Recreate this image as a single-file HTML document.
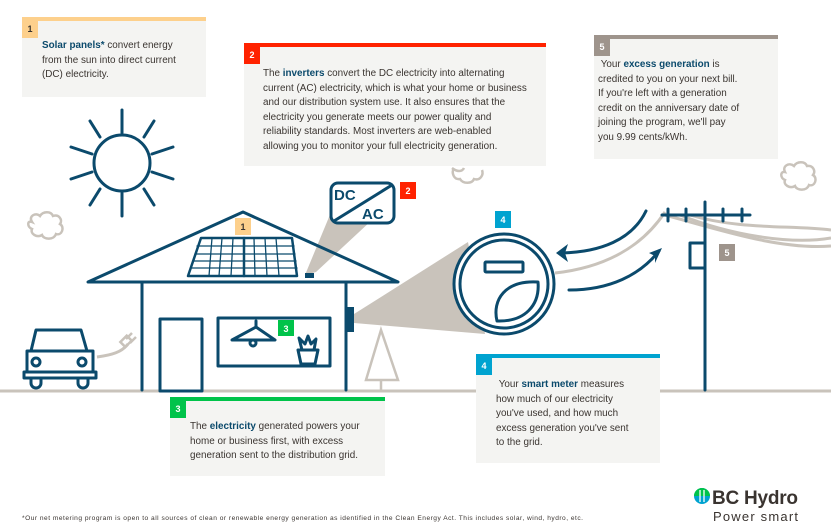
<!DOCTYPE html>
<html><head><meta charset="utf-8"><style>
body{margin:0;width:831px;height:530px;background:#fff;position:relative;overflow:hidden;font-family:"Liberation Sans",sans-serif}
.box{position:absolute;background:#f4f4f2;color:#3a3430;font-size:9.9px;line-height:14.5px}
.box b{color:#0b4a6c}
.bar{position:absolute;left:0;top:0;right:0;height:4px}
.bd{position:absolute;left:0;top:4px;width:16px;height:17px;color:#fff;font-weight:bold;font-size:9px;text-align:center;line-height:17px}
.tx{position:absolute;white-space:nowrap;margin-top:2px}
svg{position:absolute;left:0;top:0}
</style></head><body>
<svg width="831" height="530" viewBox="0 0 831 530">
<g fill="none" stroke="#c9c3bb" stroke-width="3">
<line x1="0" y1="391" x2="831" y2="391"/>
<path d="M32 222c-4-6 4-10 8-6 3-5 11-5 13 0 6-2 10 4 7 8 5 3 2 12-4 10-2 6-12 6-14 1-5 3-12-1-10-6-5-2-5-9 0-7z" stroke-width="2.5"/>
<path d="M452 168c5 4 10 4 12 0M454 168c-3 5 0 12 6 11 3 5 12 5 14 0 6 2 10-4 8-9" stroke-width="2.5"/>
<path d="M785 172c-3-6 4-10 9-6 3-5 11-5 13 0 6-1 9 5 6 9 5 3 2 12-4 10-2 6-12 6-14 1-5 3-12-1-10-6-5-2-5-9 0-8z" stroke-width="2.5"/>
<path d="M381 330 L366 380 L398 380 Z" stroke-width="2.5"/>
<line x1="381" y1="380" x2="381" y2="390" stroke-width="2.5"/>
<path d="M97 357 C112 355 122 352 128 344"/>
<path d="M555 273 C600 268 640 250 665 212"/>
<path d="M665 215 C720 230 780 250 831 246"/>
<path d="M680 215 C730 235 790 245 831 238"/>
<path d="M690 215 C740 230 790 225 831 230"/>
</g>
<path d="M126 339 l6-6 M130 343 l6-6" stroke="#c9c3bb" stroke-width="2.5"/>
<rect x="122" y="338" width="9" height="7" fill="none" stroke="#c9c3bb" stroke-width="2.5" transform="rotate(-45 126 342)"/>
<polygon points="305,275 316,272 372,220 334,205" fill="#c9c3bb"/>
<polygon points="354,314 354,323 485,334 468,242" fill="#c9c3bb"/>
<circle cx="504" cy="284" r="50" fill="#fff"/>
<rect x="331" y="183" width="63" height="40" rx="7" fill="#fff"/>
<g fill="none" stroke="#0b4a6c" stroke-width="3" stroke-linecap="round" stroke-linejoin="round">
<circle cx="122" cy="163" r="28"/>
<line x1="122" y1="133" x2="122" y2="110"/><line x1="122" y1="193" x2="122" y2="216"/>
<line x1="144" y1="137" x2="154" y2="121"/><line x1="100" y1="137" x2="90" y2="121"/>
<line x1="144" y1="189" x2="154" y2="205"/><line x1="100" y1="189" x2="90" y2="205"/>
<line x1="152" y1="154" x2="173" y2="147"/><line x1="92" y1="154" x2="71" y2="147"/>
<line x1="152" y1="172" x2="173" y2="179"/><line x1="92" y1="172" x2="71" y2="179"/>
<path d="M88 282 L243 212 L398 282 Z"/>
<line x1="142" y1="282" x2="142" y2="390"/><line x1="346" y1="282" x2="346" y2="390"/>
<rect x="160" y="319" width="42" height="72"/>
<rect x="218" y="318" width="112" height="48"/>
<path d="M232 340 L256 327 L275 340 Z M256 321 v6"/>
<circle cx="253" cy="343" r="3"/>
<path d="M298 350 h20 l-3 14 h-14 z M302 350 l-3-12 6 6 3-8 3 8 5-5 -2 11"/>
<path d="M201 238 H292 L297 276 H188 Z" stroke-width="2.5"/>
<g stroke-width="1.3"><line x1="197" y1="246" x2="294" y2="246"/><line x1="195" y1="254" x2="295" y2="254"/><line x1="193" y1="261" x2="296" y2="261"/><line x1="191" y1="268" x2="297" y2="268"/>
<line x1="212" y1="238" x2="209" y2="276"/><line x1="222" y1="238" x2="219" y2="276"/><line x1="233" y1="238" x2="231" y2="276"/>
<line x1="254" y1="238" x2="255" y2="276"/><line x1="265" y1="238" x2="267" y2="276"/><line x1="276" y1="238" x2="279" y2="276"/></g>
<line x1="244" y1="238" x2="244" y2="276" stroke-width="2.5"/>
<rect x="331" y="183" width="63" height="40" rx="7"/>
<line x1="334" y1="221" x2="392" y2="185"/>
<path d="M36 330 H81 L87 351 H31 Z M27 351 H93 V372 H27 Z"/>
<rect x="24" y="372" width="72" height="6"/>
<path d="M31 378 v5 a5 5 0 0 0 10 0 v-5 M78 378 v5 a5 5 0 0 0 10 0 v-5"/>
<circle cx="36" cy="362" r="4"/><circle cx="82" cy="362" r="4"/>
<circle cx="504" cy="284" r="50"/><circle cx="504" cy="284" r="44"/>
<rect x="485" y="262" width="38" height="10" rx="1"/>
<path d="M497 321 C492 300 505 280 538 282 C540 305 525 322 497 321 Z"/>
<path d="M646 211 C632 240 600 252 562 253"/>
<path d="M569 290 C610 290 640 275 659 251"/>
<line x1="705" y1="202" x2="705" y2="390"/>
<line x1="662" y1="215" x2="750" y2="215"/>
<path d="M668 209v12 M686 209v12 M723 209v12 M742 209v12"/>
<rect x="690" y="243" width="15" height="25"/>
</g>
<path d="M556 253 l12-9 -3 9 3 9z" fill="#0b4a6c"/>
<path d="M662 248 l-13 5 6 3 0 7z" fill="#0b4a6c"/>
<rect x="305" y="273" width="9" height="5" fill="#0b4a6c"/>
<rect x="346" y="307" width="8" height="25" fill="#0b4a6c"/>
<text x="334" y="200" font-family="Liberation Sans" font-weight="bold" font-size="15" fill="#0b4a6c">DC</text>
<text x="362" y="219" font-family="Liberation Sans" font-weight="bold" font-size="15" fill="#0b4a6c">AC</text>
<g font-family="Liberation Sans" font-weight="bold" font-size="9" text-anchor="middle">
<rect x="235" y="218" width="16" height="17" fill="#fdd08c"/><text x="243" y="230" fill="#3a3430">1</text>
<rect x="400" y="182" width="16" height="17" fill="#ff2200"/><text x="408" y="194" fill="#fff">2</text>
<rect x="278" y="320" width="16" height="16" fill="#00c34a"/><text x="286" y="332" fill="#fff">3</text>
<rect x="495" y="211" width="16" height="17" fill="#00a3d0"/><text x="503" y="223" fill="#fff">4</text>
<rect x="719" y="244" width="16" height="17" fill="#9e948c"/><text x="727" y="256" fill="#fff">5</text>
</g>
<circle cx="702" cy="496" r="8" fill="#00a3d0"/><path d="M694 496 a8 8 0 0 1 16 0z" fill="#00c34a"/>
<path d="M700 490v12 M704 490v12" stroke="#fff" stroke-width="1.3"/>
<text x="712" y="504" font-family="Liberation Sans" font-weight="bold" font-size="19" fill="#3a3430" textLength="86">BC Hydro</text>
<text x="713" y="521" font-family="Liberation Sans" font-size="13" fill="#3a3430" textLength="85">Power smart</text>
<text x="22" y="520" font-family="Liberation Sans" font-size="6.6" fill="#3a3430" textLength="561">*Our net metering program is open to all sources of clean or renewable energy generation as identified in the Clean Energy Act. This includes solar, wind, hydro, etc.</text>
</svg>
<div class="box" style="left:22px;top:17px;width:184px;height:80px"><div class="bar" style="background:#fdd08c"></div><div class="bd" style="background:#fdd08c;color:#3a3430">1</div>
<div class="tx" style="left:20px;top:20px"><b>Solar panels*</b> convert energy<br>from the sun into direct current<br>(DC) electricity.</div></div>
<div class="box" style="left:244px;top:43px;width:302px;height:123px"><div class="bar" style="background:#ff2200"></div><div class="bd" style="background:#ff2200">2</div>
<div class="tx" style="left:19px;top:22px">The <b>inverters</b> convert the DC electricity into alternating<br>current (AC) electricity, which is what your home or business<br>and our distribution system use. It also ensures that the<br>electricity you generate meets our power quality and<br>reliability standards. Most inverters are web-enabled<br>allowing you to monitor your full electricity generation.</div></div>
<div class="box" style="left:594px;top:35px;width:184px;height:124px"><div class="bar" style="background:#9e948c"></div><div class="bd" style="background:#9e948c">5</div>
<div class="tx" style="left:4px;top:21px">&nbsp;Your <b>excess generation</b> is<br>credited to you on your next bill.<br>If you're left with a generation<br>credit on the anniversary date of<br>joining the program, we'll pay<br>you 9.99 cents/kWh.</div></div>
<div class="box" style="left:170px;top:397px;width:215px;height:79px"><div class="bar" style="background:#00c34a"></div><div class="bd" style="background:#00c34a">3</div>
<div class="tx" style="left:20px;top:21px">The <b>electricity</b> generated powers your<br>home or business first, with excess<br>generation sent to the distribution grid.</div></div>
<div class="box" style="left:476px;top:354px;width:184px;height:109px"><div class="bar" style="background:#00a3d0"></div><div class="bd" style="background:#00a3d0">4</div>
<div class="tx" style="left:20px;top:22px">&nbsp;Your <b>smart meter</b> measures<br>how much of our electricity<br>you've used, and how much<br>excess generation you've sent<br>to the grid.</div></div>
</body></html>
